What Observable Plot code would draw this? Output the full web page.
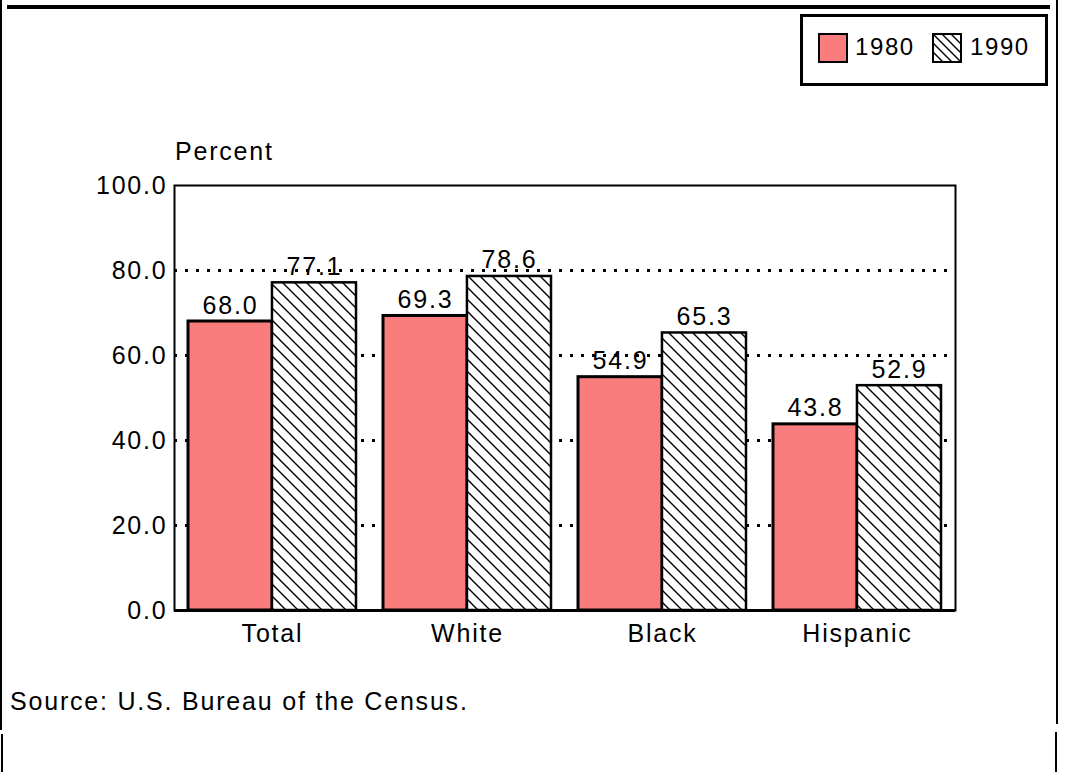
<!DOCTYPE html>
<html>
<head>
<meta charset="utf-8">
<script src="https://cdn.jsdelivr.net/npm/d3@7"></script>
<script src="https://cdn.jsdelivr.net/npm/@observablehq/plot@0.6"></script>
<style>
  html, body { margin: 0; padding: 0; background: #fff; }
  #root { position: relative; width: 1065px; height: 772px; overflow: hidden; background: #fff;
          font-family: "Liberation Sans", Arial, Helvetica, sans-serif; font-size: 25px; letter-spacing: 1.8px; color: #000; }
  #chart { position: absolute; left: 0; top: 0; }
  .abs { position: absolute; }
  .line { position: absolute; background: #000; }
  #legend { position: absolute; left: 800px; top: 14px; width: 242px; height: 66px; border: 3px solid #000; background: #fff; font-size: 24px; letter-spacing: 1.6px; }
  .sw { position: absolute; width: 26px; height: 26px; border: 2px solid #000; }
  .lt { position: absolute; line-height: 28px; white-space: nowrap; }
</style>
</head>
<body>
<div id="root">
  <div id="chart"></div>
  <div class="line" style="left:7px; top:5px; width:1043px; height:4px;"></div>
  <div class="line" style="left:0px; top:0px; width:2px; height:730px;"></div>
  <div class="line" style="left:1px; top:734px; width:2px; height:38px;"></div>
  <div class="line" style="left:1056px; top:0px; width:2px; height:724px;"></div>
  <div class="line" style="left:1055px; top:732px; width:2px; height:40px;"></div>
  <div id="legend"></div>
  <div class="abs" id="ylabel" style="left:175px; top:137px; white-space:nowrap;"></div>
  <div class="abs" id="source" style="left:10px; top:687px; white-space:nowrap;"></div>
</div>
<script>
// ---- data ----
const categories = ["Total", "White", "Black", "Hispanic"];
const years = ["1980", "1990"];
const values1980 = [68.0, 69.3, 54.9, 43.8];
const values1990 = [77.1, 78.6, 65.3, 52.9];
const yTicks = [0, 20, 40, 60, 80, 100];
const gridValues = [20, 40, 60, 80];
const yAxisLabel = "Percent";
const sourceText = "Source: U.S. Bureau of the Census.";

const rows1980 = categories.map((c, i) => ({category: c, year: years[0], value: values1980[i]}));
const rows1990 = categories.map((c, i) => ({category: c, year: years[1], value: values1990[i]}));

// ---- layout ----
const W = 1065, H = 772;
const mL = 174, mR = 110, mT = 185, mB = 162;
const pInner = 0.14, pOuter = 0.07;
const step = (W - mL - mR) / (categories.length - pInner + 2 * pOuter);
const bandwidth = step * (1 - pInner);
const half = bandwidth / 2;
const pink = "#fa7d7d";

const chart = Plot.plot({
  width: W,
  height: H,
  marginLeft: mL,
  marginRight: mR,
  marginTop: mT,
  marginBottom: mB,
  style: {fontFamily: '"Liberation Sans", Arial, Helvetica, sans-serif', fontSize: "25px", color: "#000", background: "transparent", overflow: "visible", letterSpacing: "1.8px"},
  x: {domain: categories, paddingInner: pInner, paddingOuter: pOuter, label: null, tickSize: 0, tickPadding: 14},
  y: {domain: [0, 100], ticks: yTicks, tickFormat: d => d.toFixed(1), label: null, tickSize: 0, tickPadding: 7},
  marks: [
    Plot.ruleY(gridValues, {stroke: "#000", strokeWidth: 3, strokeDasharray: "3,8"}),
    Plot.barY(rows1980, {x: "category", y: "value", fill: pink, stroke: "#000", strokeWidth: 3, insetRight: half}),
    Plot.barY(rows1990, {x: "category", y: "value", fill: "url(#hatch1990)", stroke: "#000", strokeWidth: 2.5, insetLeft: half}),
    Plot.text(rows1980, {x: "category", y: "value", text: d => d.value.toFixed(1), dx: -half / 2, dy: -8, lineAnchor: "bottom", fill: "#000"}),
    Plot.text(rows1990, {x: "category", y: "value", text: d => d.value.toFixed(1), dx: half / 2, dy: -8, lineAnchor: "bottom", fill: "#000"}),
    Plot.frame({stroke: "#000", strokeWidth: 2}),
    Plot.ruleY([0], {stroke: "#000", strokeWidth: 3})
  ]
});

// hatch pattern definition
const ns = "http://www.w3.org/2000/svg";
const defs = document.createElementNS(ns, "defs");
defs.innerHTML = `
  <pattern id="hatch1990" patternUnits="userSpaceOnUse" width="12" height="12">
    <rect width="12" height="12" fill="#fff"/>
    <path d="M-3,-3 L15,15 M-3,9 L3,15 M9,-3 L15,3" stroke="#000" stroke-width="1.4"/>
  </pattern>`;
chart.insertBefore(defs, chart.firstChild);
document.getElementById("chart").appendChild(chart);

// legend
const legend = document.getElementById("legend");
legend.innerHTML = `
  <div class="sw" style="left:15px; top:16px; background:${pink};"></div>
  <div class="lt" style="left:52px; top:16px;">${years[0]}</div>
  <svg class="sw" style="left:129px; top:16px; width:26px; height:26px;" viewBox="0 0 26 26">
    <defs><pattern id="hatchL" patternUnits="userSpaceOnUse" width="9" height="9">
      <rect width="9" height="9" fill="#fff"/>
      <path d="M-3,-3 L12,12 M-3,6 L3,12 M6,-3 L12,3" stroke="#000" stroke-width="1.4"/>
    </pattern></defs>
    <rect width="26" height="26" fill="url(#hatchL)"/>
  </svg>
  <div class="lt" style="left:167px; top:16px;">${years[1]}</div>`;

document.getElementById("ylabel").textContent = yAxisLabel;
document.getElementById("source").textContent = sourceText;
</script>
</body>
</html>
